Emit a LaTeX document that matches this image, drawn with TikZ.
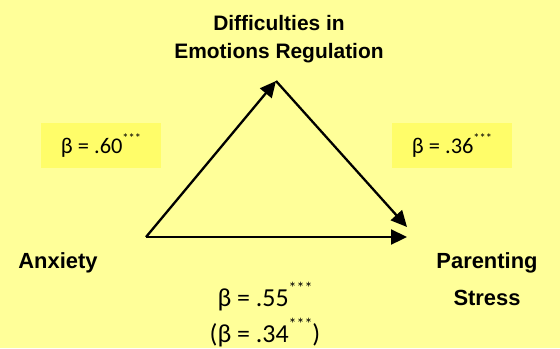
\documentclass[tikz,border=0pt]{standalone}
\usepackage{fontspec}
\setmainfont{Liberation Sans}
\newfontfamily\calfont{Carlito}
\usetikzlibrary{arrows.meta,positioning}
\definecolor{bgyellow}{RGB}{255,255,153}
\definecolor{boxyellow}{RGB}{255,253,105}
\newcommand{\stars}[1]{\raisebox{.52em}{\fontsize{#1}{#1}\selectfont ***}}

\begin{document}
\begin{tikzpicture}[
  x=1bp, y=-1bp,
  var/.style={align=center, inner sep=0pt},
  coef/.style={fill=boxyellow, minimum width=120bp, minimum height=45bp, inner sep=0pt, font=\calfont\fontsize{22.5}{26}\selectfont},
  arr/.style={-{Triangle[length=16bp,width=15bp]}, line width=2.3bp},
]
  \fill[bgyellow] (0,0) rectangle (560,348);

  % triangle corners
  \coordinate (xpt) at (146,237);
  \coordinate (mpt) at (276,81);
  \coordinate (ypt) at (407,237);
  \coordinate (ypt2) at (407,227);

  \node[var, anchor=north, font=\bfseries\fontsize{21}{28}\selectfont] (dergl) at (279,15) {Difficulties in\\Emotions Regulation};
  \node[var, anchor=base, font=\bfseries\fontsize{22}{38}\selectfont] (anxiety) at (58,268) {Anxiety};
  \node[var, anchor=north, font=\bfseries\fontsize{22}{38}\selectfont] (stress) at (487,252) {Parenting\\Stress};

  \node[coef] (coefa) at (101,145.5) {β = .60\stars{12.5}};
  \node[coef] (coefb) at (452,145.5) {β = .36\stars{12.5}};
  \node[var, anchor=north, font=\calfont\fontsize{26}{36}\selectfont] (coefc) at (265,282) {β = .55\stars{16}\\(β = .34\stars{16})};

  \draw[arr] (xpt) -- (mpt);
  \draw[arr] (mpt) -- (ypt2);
  \draw[arr] (xpt) -- (ypt);
\end{tikzpicture}
\end{document}
